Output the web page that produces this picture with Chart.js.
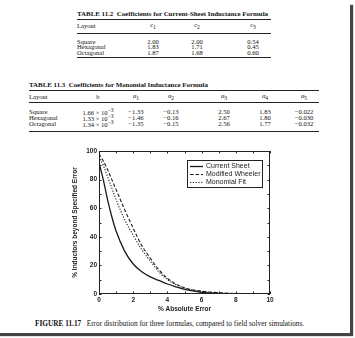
<!DOCTYPE html>
<html>
<head>
<meta charset="utf-8">
<script src="https://cdn.jsdelivr.net/npm/chart.js@4.4.0/dist/chart.umd.min.js"></script>
<style>
  html, body { margin: 0; padding: 0; background: #fff; width: 355px; height: 338px; overflow: hidden; }
  #page { position: absolute; left: -4px; top: 2px; width: 354px; height: 331px; background: #fff; box-shadow: 3px 3px 1px #444; }
  .t { position: absolute; font-family: "Liberation Serif", serif; font-size: 6.6px; color: #111; white-space: nowrap; line-height: 1; }
  .ttl { font-size: 6.9px; font-weight: bold; }
  .cap { font-size: 7.3px; }
  .rule { position: absolute; height: 0; border-top: 1.5px solid #222; }
  #wrap { position: absolute; left: 60px; top: 145px; width: 225px; height: 172px; }
</style>
</head>
<body>
<div id="page"></div>
<div id="wrap"><canvas id="c" width="225" height="172"></canvas></div>
<script>
// chart data
const errorPct = [0, 0.25, 0.5, 0.75, 1, 1.5, 2, 2.5, 3, 3.5, 4, 4.5, 5, 6, 7, 8];
const currentSheet = [92, 80, 66, 54, 44, 30, 21, 15.5, 12, 9.5, 7, 5, 3.2, 1.2, 0.4, 0.1];
const modifiedWheeler = [98, 93, 87, 80, 73, 59, 46, 34, 25, 17, 11, 7, 4.3, 2, 0.9, 0.3];
const monomialFit = [96, 90, 82, 74, 66, 52, 41, 31, 23, 15.5, 10, 6.5, 4, 1.8, 0.8, 0.2];
const xLabelEvery = 2;
const yLabelEvery = 20;

// table contents
const layouts = ["Square", "Hexagonal", "Octagonal"];
const t2Head = ["c<sub>1</sub>", "c<sub>2</sub>", "c<sub>3</sub>"];
const t2Rows = [["2.00", "2.00", "0.54"], ["1.83", "1.71", "0.45"], ["1.87", "1.68", "0.60"]];
const t3Head = ["b", "&alpha;<sub>1</sub>", "&alpha;<sub>2</sub>", "&alpha;<sub>3</sub>", "&alpha;<sub>4</sub>", "&alpha;<sub>5</sub>"];
const t3Rows = [
    ["1.66 &times; 10<sup>&minus;3</sup>", "&minus;1.33", "&minus;0.13", "2.50", "1.83", "&minus;0.022"],
    ["1.33 &times; 10<sup>&minus;3</sup>", "&minus;1.46", "&minus;0.16", "2.67", "1.80", "&minus;0.030"],
    ["1.34 &times; 10<sup>&minus;3</sup>", "&minus;1.35", "&minus;0.15", "2.56", "1.77", "&minus;0.032"]
];

function put(html, x, y, cls, center) {
    const d = document.createElement("div");
    d.className = "t " + (cls || "");
    d.innerHTML = html;
    d.style.left = x + "px";
    d.style.top = y + "px";
    d.style.transform = center ? "translate(-50%,-50%)" : "translateY(-50%)";
    document.body.appendChild(d);
}
function rule(x1, x2, y) {
    const d = document.createElement("div");
    d.className = "rule";
    d.style.left = x1 + "px";
    d.style.width = (x2 - x1) + "px";
    d.style.top = y + "px";
    document.body.appendChild(d);
}

// TABLE 11.2
put("TABLE 11.2&nbsp; Coefficients for Current-Sheet Inductance Formula", 77, 14, "ttl");
rule(77, 271, 19);
put("Layout", 77, 26);
[153, 197, 253].forEach((x, i) => put(t2Head[i], x, 26, "", true));
rule(77, 271, 33);
[41.7, 47.3, 53].forEach((y, r) => {
    put(layouts[r], 77, y);
    [153, 197, 253].forEach((x, i) => put(t2Rows[r][i], x, y, "", true));
});
rule(77, 271, 57);

// TABLE 11.3
const t3x = [98, 136, 171, 224, 265, 304];
put("TABLE 11.3&nbsp; Coefficients for Monomial Inductance Formula", 29, 85, "ttl");
rule(29, 319, 90);
put("Layout", 29, 96.7);
t3x.forEach((x, i) => put(t3Head[i], x, 96.7, "", true));
rule(29, 319, 101.7);
[112.3, 118.3, 123.7].forEach((y, r) => {
    put(layouts[r], 29, y);
    t3x.forEach((x, i) => put(t3Rows[r][i], x, y, "", true));
});
rule(29, 319, 130.7);

// caption
put("<b>FIGURE 11.17</b>&nbsp;&nbsp; Error distribution for three formulas, compared to field solver simulations.", 35, 324, "cap");

// box + inner tick marks, like the original plot
const boxTicks = {
    id: "boxTicks",
    afterDatasetsDraw(chart) {
        const { ctx, chartArea: a, scales: { x, y } } = chart;
        ctx.save();
        ctx.strokeStyle = "#222";
        ctx.lineWidth = 1;
        ctx.setLineDash([]);
        ctx.strokeRect(a.left + 0.5, a.top + 0.5, a.right - a.left - 1, a.bottom - a.top - 1);
        ctx.beginPath();
        x.ticks.forEach(t => {
            const px = Math.round(x.getPixelForValue(t.value)) + 0.5;
            ctx.moveTo(px, a.bottom); ctx.lineTo(px, a.bottom - 2.5);
            ctx.moveTo(px, a.top); ctx.lineTo(px, a.top + 2.5);
        });
        y.ticks.forEach(t => {
            const py = Math.round(y.getPixelForValue(t.value)) + 0.5;
            ctx.moveTo(a.left, py); ctx.lineTo(a.left + 2.5, py);
            ctx.moveTo(a.right, py); ctx.lineTo(a.right - 2.5, py);
        });
        ctx.stroke();
        ctx.restore();
    }
};

// boxed legend in the upper right of the plot
const boxLegend = {
    id: "boxLegend",
    afterDraw(chart) {
        const { ctx, chartArea: a } = chart;
        const w = 75, h = 27;
        const left = a.right - 8 - w, top = a.top + 9;
        ctx.save();
        ctx.fillStyle = "#fff";
        ctx.fillRect(left, top, w, h);
        ctx.strokeStyle = "#222";
        ctx.lineWidth = 1;
        ctx.strokeRect(left + 0.5, top + 0.5, w, h);
        ctx.font = '7px "Liberation Sans"';
        ctx.textBaseline = "middle";
        chart.data.datasets.forEach((ds, i) => {
            const yy = top + 6.5 + i * 8;
            ctx.setLineDash(ds.borderDash || []);
            ctx.lineWidth = ds.borderWidth;
            ctx.strokeStyle = ds.borderColor;
            ctx.beginPath();
            ctx.moveTo(left + 3, yy);
            ctx.lineTo(left + 16, yy);
            ctx.stroke();
            ctx.setLineDash([]);
            ctx.fillStyle = "#222";
            ctx.fillText(ds.label, left + 19, yy);
        });
        ctx.restore();
    }
};

const tickFont = { family: "Liberation Sans", size: 6.5, weight: "bold" };
const pts = ys => errorPct.map((x, i) => ({ x: x, y: ys[i] }));

new Chart(document.getElementById("c"), {
    type: "line",
    data: {
        datasets: [
            { label: "Current Sheet", data: pts(currentSheet), borderColor: "#1a1a1a", borderWidth: 1.3, pointRadius: 0, cubicInterpolationMode: "monotone" },
            { label: "Modified Wheeler", data: pts(modifiedWheeler), borderColor: "#1a1a1a", borderWidth: 1.1, borderDash: [3.5, 2], pointRadius: 0, cubicInterpolationMode: "monotone" },
            { label: "Monomial Fit", data: pts(monomialFit), borderColor: "#1a1a1a", borderWidth: 1.1, borderDash: [1.2, 1.6], pointRadius: 0, cubicInterpolationMode: "monotone" }
        ]
    },
    options: {
        responsive: false,
        animation: false,
        devicePixelRatio: 1,
        layout: { padding: { top: 6, right: 15, left: 0, bottom: 0 } },
        plugins: { legend: { display: false }, tooltip: { enabled: false } },
        scales: {
            x: {
                type: "linear", min: 0, max: 10,
                ticks: { stepSize: 1, autoSkip: false, maxRotation: 0, padding: 2, color: "#222", font: tickFont,
                    callback: v => v % xLabelEvery === 0 ? v : "" },
                grid: { display: false, drawTicks: false },
                border: { display: false },
                title: { display: true, text: "% Absolute Error", color: "#222", font: tickFont, padding: { top: 0, bottom: 4 } },
                afterFit: s => { s.height = 23; }
            },
            y: {
                min: 0, max: 100,
                ticks: { stepSize: 10, autoSkip: false, padding: 2, color: "#222", font: tickFont,
                    callback: v => v % yLabelEvery === 0 ? v : "" },
                grid: { display: false, drawTicks: false },
                border: { display: false },
                title: { display: true, text: "% Inductors beyond Specified Error", color: "#222", font: tickFont, padding: { top: 11, bottom: 0 } },
                afterFit: s => { s.width = 39; }
            }
        }
    },
    plugins: [boxTicks, boxLegend]
});
</script>
</body>
</html>
